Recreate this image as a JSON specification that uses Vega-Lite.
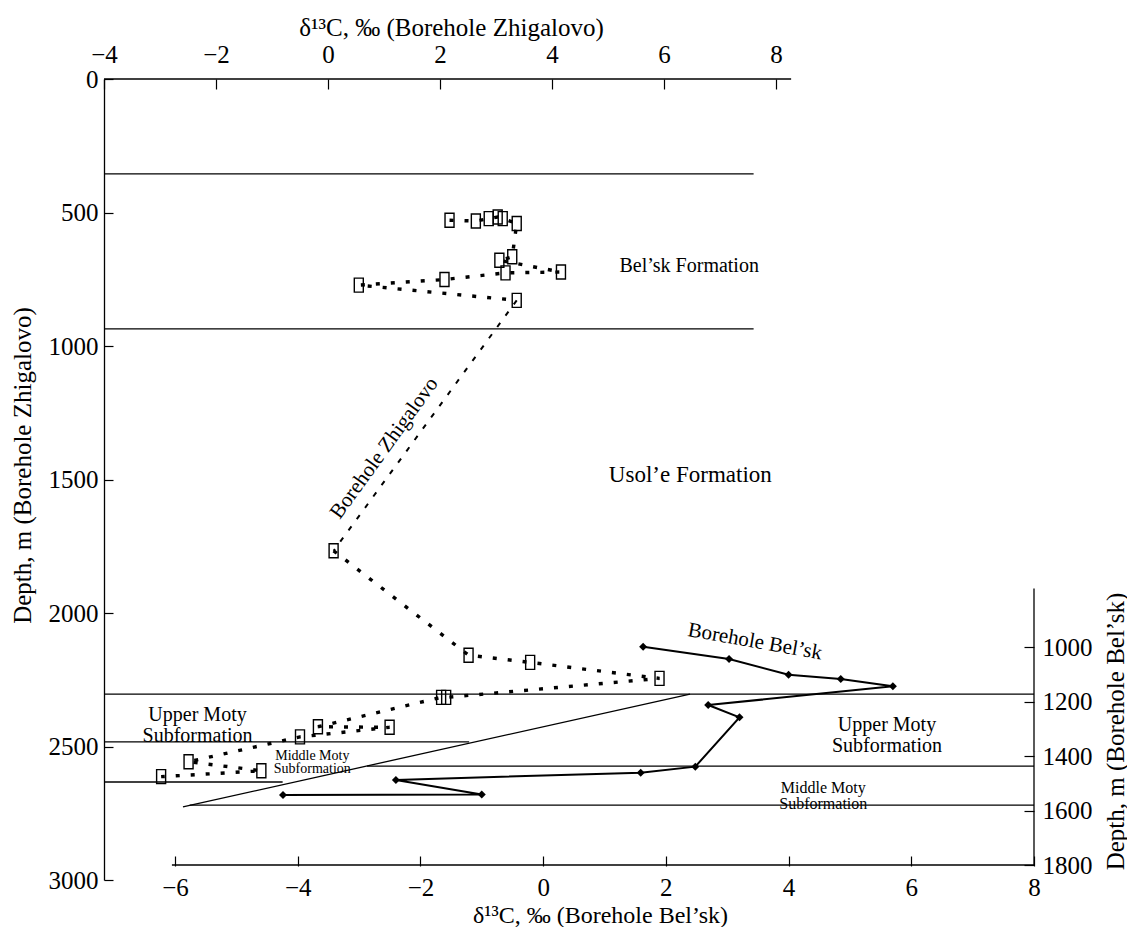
{
  "$schema": "https://vega.github.io/schema/vega-lite/v6.json",
  "width": 930,
  "height": 801,
  "autosize": {"type": "none"},
  "padding": {"left": 104, "top": 79, "right": 93, "bottom": 47},
  "background": "white",
  "config": {
    "view": {"stroke": null},
    "font": "Liberation Serif",
    "axis": {
      "grid": false,
      "domainColor": "black",
      "tickColor": "black",
      "labelColor": "black",
      "titleColor": "black",
      "labelFont": "Liberation Serif",
      "titleFont": "Liberation Serif",
      "labelFontSize": 25,
      "titleFontSize": 25,
      "titleFontWeight": "normal",
      "labelFlush": false,
      "labelOverlap": false,
      "labelBound": false,
      "tickWidth": 1.2,
      "domainWidth": 1.3
    },
    "text": {"font": "Liberation Serif", "color": "black"}
  },
  "datasets": {
    "zhig": [
      {"i": 1, "x": 2.17, "d": 529}, {"i": 2, "x": 2.64, "d": 532}, {"i": 3, "x": 2.87, "d": 523},
      {"i": 4, "x": 3.03, "d": 517}, {"i": 5, "x": 3.12, "d": 523}, {"i": 6, "x": 3.37, "d": 541},
      {"i": 7, "x": 3.29, "d": 666}, {"i": 8, "x": 3.06, "d": 679}, {"i": 9, "x": 4.16, "d": 723},
      {"i": 10, "x": 3.17, "d": 726}, {"i": 11, "x": 2.08, "d": 751}, {"i": 12, "x": 0.55, "d": 772},
      {"i": 13, "x": 3.37, "d": 829}, {"i": 14, "x": 0.10, "d": 1767}, {"i": 15, "x": 2.51, "d": 2158},
      {"i": 16, "x": 3.61, "d": 2185}, {"i": 17, "x": 5.92, "d": 2245}, {"i": 18, "x": 2.11, "d": 2316},
      {"i": 19, "x": 2.02, "d": 2316}, {"i": 20, "x": -0.18, "d": 2426}, {"i": 21, "x": 1.10, "d": 2428},
      {"i": 22, "x": -0.50, "d": 2464}, {"i": 23, "x": -2.49, "d": 2557}, {"i": 24, "x": -1.19, "d": 2591},
      {"i": 25, "x": -2.98, "d": 2613}
    ],
    "zrules": [
      {"x": -4, "x2": 8.27, "d": 0},
      {"x": -4, "x2": 7.6, "d": 355},
      {"x": -4, "x2": 7.6, "d": 936},
      {"x": -4, "x2": 12.607, "d": 2304},
      {"x": -4, "x2": 2.52, "d": 2483},
      {"x": -4, "x2": -0.81, "d": 2633}
    ],
    "belsk": [
      {"i": 1, "x": 1.63, "d": 999}, {"i": 2, "x": 3.03, "d": 1044}, {"i": 3, "x": 4.00, "d": 1102},
      {"i": 4, "x": 4.85, "d": 1117}, {"i": 5, "x": 5.70, "d": 1144}, {"i": 6, "x": 2.69, "d": 1213},
      {"i": 7, "x": 3.20, "d": 1258}, {"i": 8, "x": 2.48, "d": 1439}, {"i": 9, "x": 1.59, "d": 1461},
      {"i": 10, "x": -2.40, "d": 1488}, {"i": 11, "x": -1.00, "d": 1541}, {"i": 12, "x": -4.24, "d": 1543}
    ],
    "bsegs": [
      {"x": -6.05, "x2": 8, "d": 1800, "d2": 1800},
      {"x": 8, "x2": 8, "d": 785, "d2": 1800},
      {"x": -2.87, "x2": 8, "d": 1437, "d2": 1437},
      {"x": -5.76, "x2": 8, "d": 1580, "d2": 1580},
      {"x": -5.87, "x2": 2.394, "d": 1587, "d2": 1172.5}
    ]
  },
  "layer": [
    {
      "layer": [
        {
          "data": {"name": "zrules"},
          "mark": {"type": "rule", "color": "black", "strokeWidth": 1.3},
          "encoding": {
            "x": {
              "field": "x", "type": "quantitative",
              "scale": {"domain": [-4, 12.607], "nice": false, "zero": false},
              "axis": {
                "orient": "top", "title": "δ¹³C, ‰ (Borehole Zhigalovo)",
                "values": [-4, -2, 0, 2, 4, 6, 8], "format": "d", "domain": false,
                "tickSize": -10, "labelPadding": 22,
                "titleX": 347, "titleY": -52, "titleAlign": "center", "titleBaseline": "middle"
              }
            },
            "x2": {"field": "x2"},
            "y": {
              "field": "d", "type": "quantitative",
              "scale": {"domain": [0, 3000], "reverse": true, "nice": false, "zero": false},
              "axis": {
                "orient": "left", "title": "Depth, m (Borehole Zhigalovo)",
                "values": [0, 500, 1000, 1500, 2000, 2500, 3000], "format": "d",
                "tickSize": -9, "labelPadding": 15,
                "titleX": -82, "titleY": 386, "titleAngle": -90, "titleAlign": "center", "titleBaseline": "middle"
              }
            }
          }
        },
        {
          "data": {"name": "zhig"},
          "transform": [{"filter": "datum.i <= 13"}],
          "mark": {"type": "line", "color": "black", "strokeWidth": 3.4, "strokeDash": [4, 11]},
          "encoding": {
            "x": {"field": "x", "type": "quantitative"},
            "y": {"field": "d", "type": "quantitative"},
            "order": {"field": "i", "type": "quantitative"}
          }
        },
        {
          "data": {"name": "zhig"},
          "transform": [{"filter": "datum.i >= 13 && datum.i <= 14"}],
          "mark": {"type": "line", "color": "black", "strokeWidth": 2, "strokeDash": [5, 9]},
          "encoding": {
            "x": {"field": "x", "type": "quantitative"},
            "y": {"field": "d", "type": "quantitative"},
            "order": {"field": "i", "type": "quantitative"}
          }
        },
        {
          "data": {"name": "zhig"},
          "transform": [{"filter": "datum.i >= 14"}],
          "mark": {"type": "line", "color": "black", "strokeWidth": 3.4, "strokeDash": [4, 11]},
          "encoding": {
            "x": {"field": "x", "type": "quantitative"},
            "y": {"field": "d", "type": "quantitative"},
            "order": {"field": "i", "type": "quantitative"}
          }
        },
        {
          "data": {"name": "zhig"},
          "mark": {"type": "point", "shape": "M-0.643,-1H0.643V1H-0.643Z", "size": 196, "filled": false, "stroke": "black", "strokeWidth": 1.4, "opacity": 1},
          "encoding": {
            "x": {"field": "x", "type": "quantitative"},
            "y": {"field": "d", "type": "quantitative"}
          }
        },
        {
          "data": {"values": [{"x": 6.45, "d": 701, "label": "Bel’sk Formation"}]},
          "mark": {"type": "text", "fontSize": 20, "align": "center", "baseline": "middle"},
          "encoding": {
            "x": {"field": "x", "type": "quantitative"},
            "y": {"field": "d", "type": "quantitative"},
            "text": {"field": "label"}
          }
        },
        {
          "data": {"values": [{"x": 6.47, "d": 1483, "label": "Usol’e Formation"}]},
          "mark": {"type": "text", "fontSize": 23, "align": "center", "baseline": "middle"},
          "encoding": {
            "x": {"field": "x", "type": "quantitative"},
            "y": {"field": "d", "type": "quantitative"},
            "text": {"field": "label"}
          }
        },
        {
          "data": {"values": [{"x": 1.007, "d": 1383, "label": "Borehole Zhigalovo"}]},
          "mark": {"type": "text", "fontSize": 21, "angle": -54, "align": "center", "baseline": "middle"},
          "encoding": {
            "x": {"field": "x", "type": "quantitative"},
            "y": {"field": "d", "type": "quantitative"},
            "text": {"field": "label"}
          }
        },
        {
          "data": {"values": [{"x": -2.33, "d": 2382, "label": ["Upper Moty", "Subformation"]}]},
          "mark": {"type": "text", "fontSize": 20, "lineHeight": 21, "align": "center", "baseline": "middle"},
          "encoding": {
            "x": {"field": "x", "type": "quantitative"},
            "y": {"field": "d", "type": "quantitative"},
            "text": {"field": "label"}
          }
        },
        {
          "data": {"values": [{"x": -0.28, "d": 2534, "label": ["Middle Moty", "Subformation"]}]},
          "mark": {"type": "text", "fontSize": 14, "lineHeight": 13.5, "align": "center", "baseline": "middle"},
          "encoding": {
            "x": {"field": "x", "type": "quantitative"},
            "y": {"field": "d", "type": "quantitative"},
            "text": {"field": "label"}
          }
        }
      ]
    },
    {
      "layer": [
        {
          "data": {"name": "bsegs"},
          "mark": {"type": "rule", "color": "black", "strokeWidth": 1.3},
          "encoding": {
            "x": {
              "field": "x", "type": "quantitative",
              "scale": {"domain": [-7.157, 8], "nice": false, "zero": false},
              "axis": {
                "orient": "bottom", "offset": -14, "title": "δ¹³C, ‰ (Borehole Bel’sk)",
                "values": [-6, -4, -2, 0, 2, 4, 6, 8], "format": "d", "domain": false,
                "tickSize": -10, "labelPadding": 19, "titleFontSize": 24,
                "titleX": 496, "titleY": 49, "titleAlign": "center", "titleBaseline": "middle"
              }
            },
            "x2": {"field": "x2"},
            "y": {
              "field": "d", "type": "quantitative",
              "scale": {"domain": [-1084.4, 1855], "reverse": true, "nice": false, "zero": false},
              "axis": {
                "orient": "right", "title": "Depth, m (Borehole Bel’sk)",
                "values": [1000, 1200, 1400, 1600, 1800], "format": "d", "domain": false,
                "tickSize": -10, "labelPadding": 18,
                "titleX": 81, "titleY": 652, "titleAngle": -90, "titleAlign": "center", "titleBaseline": "middle"
              }
            },
            "y2": {"field": "d2"}
          }
        },
        {
          "data": {"name": "belsk"},
          "mark": {"type": "line", "color": "black", "strokeWidth": 2},
          "encoding": {
            "x": {"field": "x", "type": "quantitative"},
            "y": {"field": "d", "type": "quantitative"},
            "order": {"field": "i", "type": "quantitative"}
          }
        },
        {
          "data": {"name": "belsk"},
          "mark": {"type": "point", "shape": "diamond", "size": 64, "filled": true, "color": "black", "opacity": 1},
          "encoding": {
            "x": {"field": "x", "type": "quantitative"},
            "y": {"field": "d", "type": "quantitative"}
          }
        },
        {
          "data": {"values": [{"x": 3.453, "d": 981, "label": "Borehole Bel’sk"}]},
          "mark": {"type": "text", "fontSize": 21, "angle": 10, "align": "center", "baseline": "middle"},
          "encoding": {
            "x": {"field": "x", "type": "quantitative"},
            "y": {"field": "d", "type": "quantitative"},
            "text": {"field": "label"}
          }
        },
        {
          "data": {"values": [{"x": 5.604, "d": 1286, "label": ["Upper Moty", "Subformation"]}]},
          "mark": {"type": "text", "fontSize": 20, "lineHeight": 21, "align": "center", "baseline": "middle"},
          "encoding": {
            "x": {"field": "x", "type": "quantitative"},
            "y": {"field": "d", "type": "quantitative"},
            "text": {"field": "label"}
          }
        },
        {
          "data": {"values": [{"x": 4.566, "d": 1516, "label": ["Middle Moty", "Subformation"]}]},
          "mark": {"type": "text", "fontSize": 16, "lineHeight": 16, "align": "center", "baseline": "middle"},
          "encoding": {
            "x": {"field": "x", "type": "quantitative"},
            "y": {"field": "d", "type": "quantitative"},
            "text": {"field": "label"}
          }
        }
      ]
    }
  ],
  "resolve": {
    "scale": {"x": "independent", "y": "independent"},
    "axis": {"x": "independent", "y": "independent"}
  }
}
